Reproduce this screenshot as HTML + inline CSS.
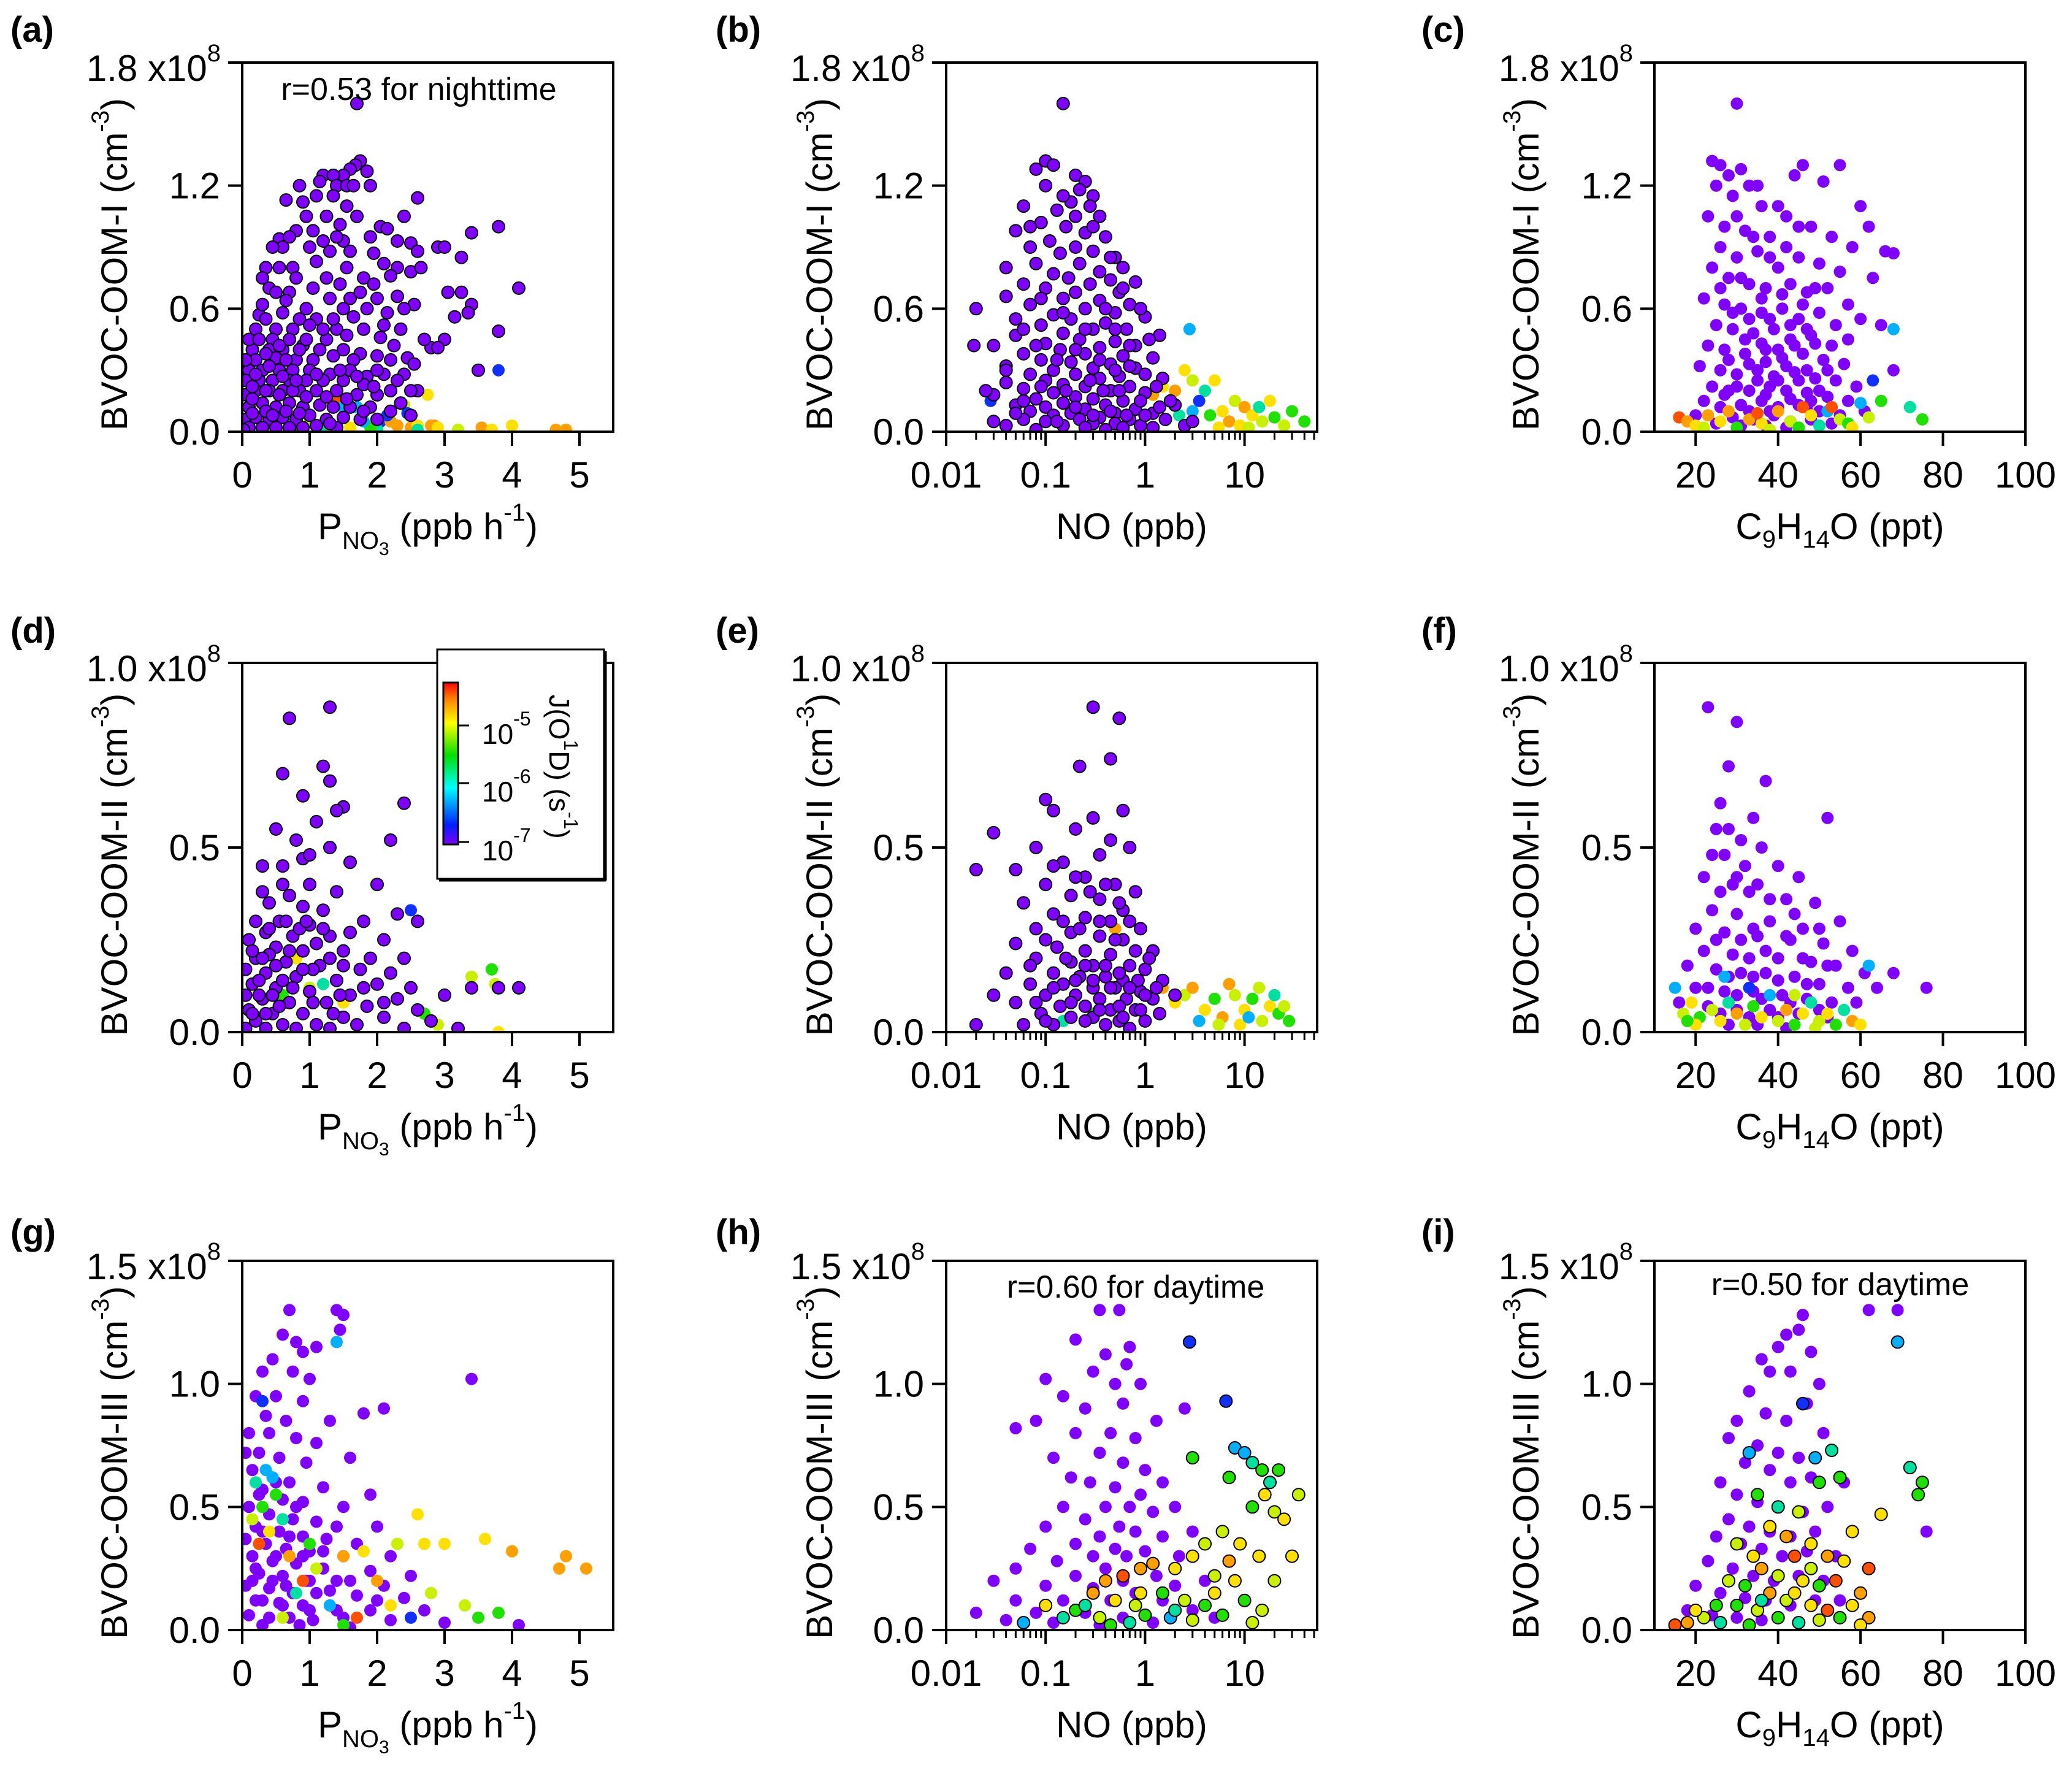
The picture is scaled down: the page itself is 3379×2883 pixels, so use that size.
<!DOCTYPE html>
<html><head><meta charset="utf-8"><style>
html,body{margin:0;padding:0;background:#fff;}
svg{display:block;font-family:"Liberation Sans",Arial,sans-serif;}
</style></head><body>
<svg id="fig" xmlns="http://www.w3.org/2000/svg" width="3379" height="2883" viewBox="0 0 3379 2883">
<defs>
<linearGradient id="rainbow" x1="0" y1="1" x2="0" y2="0">
<stop offset="0" stop-color="#7f00ff"/><stop offset="0.12" stop-color="#0020ff"/><stop offset="0.35" stop-color="#00ffff"/><stop offset="0.55" stop-color="#00e000"/><stop offset="0.75" stop-color="#ffff00"/><stop offset="0.9" stop-color="#ff8000"/><stop offset="1" stop-color="#ff0000"/>
</linearGradient>
</defs>
<g id="root"></g>
</svg>
<script>
const colorList=['#7f00ff','#1030ff','#00b0ff','#00e0a0','#20e000','#c8f000','#ffe000','#ffa000','#ff5000'];
const xTicksCol1=[0,1,2,3,4,5];
const xTicksCol2=[0.01,0.1,1,10];
const xTickLabelsCol2=['0.01','0.1','1','10'];
const xTicksCol3=[20,40,60,80,100];
const yTicksRow1=[0,0.6,1.2];
const yTicksRow2=[0,0.5];
const yTicksRow3=[0,0.5,1.0];
const yTopRow=['1.8','1.0','1.5'];
const yMaxRow=[1.8,1.0,1.5];
const yTitles=['BVOC-OOM-I','BVOC-OOM-II','BVOC-OOM-III'];

const aColor=[[1.4,0.15,8],[1.5,0.12,2],[1.7,0.12,2],[2.4,0.13,5],[2.45,0.09,1],[2.05,0.05,1],[2.2,0.05,7],[2.3,0.03,7],[2.5,0.02,7],[2.6,0.03,6],[2.75,0.18,6],[2.8,0.03,7],[2.85,0.03,7],[2.9,0.02,6],[3.2,0.01,5],[3.55,0.02,7],[3.7,0.01,6],[4.0,0.03,6],[4.65,0.01,7],[4.8,0.01,7],[3.8,0.3,1],[2.0,0.01,3],[1.9,0.02,4],[1.6,0.02,6],[1.2,0.02,3],[0.8,0.01,4],[2.15,0.08,1],[2.6,0.01,3],[1.0,0.05,5],[1.8,0.05,2]];
const aPurple=[[1.7,1.6],[1.75,1.32],[1.68,1.3],[1.6,1.28],[1.5,1.25],[1.2,1.25],[1.35,1.25],[1.85,1.27],[0.85,1.2],[1.15,1.22],[1.4,1.2],[1.55,1.2],[1.65,1.2],[1.9,1.2],[2.6,1.14],[0.65,1.13],[0.9,1.12],[1.1,1.15],[1.55,1.1],[1.35,1.15],[2.4,1.05],[2.05,1.0],[2.15,0.99],[3.8,1.0],[3.4,0.97],[0.8,0.98],[1.45,1.01],[0.55,0.94],[1.2,0.93],[1.5,0.93],[2.3,0.93],[2.5,0.92],[2.9,0.9],[3.0,0.9],[0.6,0.9],[1.0,0.9],[1.3,0.88],[1.6,0.88],[1.95,0.87],[2.6,0.88],[3.25,0.85],[0.35,0.8],[0.75,0.8],[1.1,0.83],[1.55,0.8],[2.1,0.82],[2.3,0.8],[2.5,0.78],[2.65,0.8],[0.3,0.75],[0.8,0.75],[1.25,0.75],[1.8,0.75],[2.2,0.76],[4.1,0.7],[0.4,0.7],[0.7,0.68],[1.05,0.7],[1.45,0.72],[1.95,0.72],[3.05,0.68],[3.25,0.68],[0.65,0.64],[1.3,0.65],[2.3,0.66],[2.55,0.62],[3.4,0.62],[3.35,0.58],[0.25,0.57],[0.6,0.58],[0.95,0.6],[1.5,0.6],[1.85,0.6],[2.15,0.58],[3.15,0.56],[0.35,0.55],[0.85,0.55],[1.1,0.55],[1.65,0.56],[2.35,0.5],[3.8,0.49],[0.2,0.5],[0.5,0.5],[0.75,0.5],[1.0,0.52],[1.4,0.5],[1.8,0.5],[2.05,0.46],[3.0,0.45],[0.45,0.45],[0.7,0.45],[1.25,0.45],[1.55,0.47],[2.25,0.42],[2.8,0.41],[2.9,0.41],[0.15,0.4],[0.4,0.4],[0.6,0.4],[0.9,0.42],[1.15,0.4],[1.5,0.4],[1.75,0.38],[2.0,0.37],[2.45,0.36],[0.2,0.35],[0.5,0.36],[0.8,0.35],[1.05,0.35],[1.35,0.37],[1.65,0.35],[2.2,0.35],[2.55,0.33],[3.5,0.3],[0.1,0.3],[0.3,0.3],[0.55,0.3],[0.75,0.3],[1.0,0.3],[1.3,0.28],[1.6,0.3],[1.85,0.27],[2.1,0.28],[2.4,0.28],[0.05,0.25],[0.25,0.25],[0.45,0.25],[0.7,0.25],[0.95,0.25],[1.2,0.25],[1.5,0.25],[1.8,0.23],[2.3,0.25],[2.6,0.2],[0.05,0.18],[0.2,0.2],[0.4,0.2],[0.6,0.2],[0.85,0.2],[1.1,0.2],[1.4,0.2],[1.7,0.18],[2.0,0.18],[2.5,0.2],[0.1,0.12],[0.3,0.14],[0.5,0.12],[0.7,0.14],[0.9,0.12],[1.15,0.13],[1.35,0.12],[1.6,0.12],[1.9,0.12],[2.2,0.1],[0.05,0.06],[0.2,0.07],[0.4,0.06],[0.6,0.07],[0.8,0.06],[1.0,0.08],[1.25,0.06],[1.5,0.07],[1.75,0.06],[0.1,0.02],[0.3,0.02],[0.5,0.02],[0.7,0.02],[0.9,0.02],[1.1,0.03],[1.4,0.02],[0.02,0.01],[0.15,0.16],[0.35,0.1],[0.65,0.1],
[0.1,0.45],[0.3,0.62],[0.5,0.68],[0.55,0.8],[0.45,0.9],[0.7,0.95],[0.95,1.05],[1.05,0.98],[1.25,1.05],[1.4,0.95],[1.7,1.05],[1.9,0.95],[0.25,0.45],[0.35,0.38],[0.55,0.42],[0.65,0.35],[0.85,0.4],[0.95,0.45],[1.2,0.5],[1.35,0.55],[1.6,0.65],[1.75,0.68],[2.0,0.65],[2.1,0.52],[2.4,0.6],[2.7,0.45],[0.15,0.22],[0.35,0.2],[0.55,0.18],[0.75,0.2],[0.95,0.17],[1.25,0.17],[1.55,0.16],[1.95,0.22],[2.2,0.2],[2.35,0.14],[0.2,0.28],[0.4,0.32],[0.6,0.27],[0.8,0.25],[1.1,0.28],[1.45,0.3],[1.7,0.27],[2.0,0.3],[0.05,0.35],[0.15,0.09],[0.45,0.08],[0.85,0.09],[1.3,0.04],[1.8,0.1],[2.0,0.06],[2.5,0.08]];

const bColor=[[2.8,0.5,2],[2.5,0.3,6],[3,0.25,5],[4,0.2,3],[5,0.25,6],[3.5,0.15,1],[2,0.2,7],[1.5,0.22,6],[1.2,0.18,7],[6,0.1,6],[8,0.15,5],[10,0.12,7],[12,0.08,6],[15,0.05,5],[20,0.07,4],[25,0.03,5],[30,0.1,4],[40,0.05,4],[18,0.15,6],[7,0.05,7],[4.5,0.08,4],[3,0.1,2],[2.2,0.08,3],[9,0.03,6],[0.028,0.15,1],[11,0.02,5],[5.5,0.02,6],[14,0.12,3]];
const bPurple=[[0.15,1.6],[0.1,1.32],[0.12,1.3],[0.08,1.28],[0.2,1.25],[0.25,1.22],[0.22,1.18],[0.3,1.15],[0.18,1.12],[0.28,1.1],[0.06,1.1],[0.13,1.08],[0.35,1.05],[0.09,1.02],[0.16,1.0],[0.05,0.98],[0.25,0.97],[0.4,0.95],[0.11,0.93],[0.2,0.9],[0.07,0.9],[0.3,0.88],[0.14,0.87],[0.5,0.85],[0.08,0.82],[0.22,0.82],[0.6,0.8],[0.04,0.8],[0.35,0.78],[0.12,0.77],[0.17,0.75],[0.45,0.74],[0.06,0.72],[0.28,0.72],[0.8,0.73],[0.1,0.7],[0.2,0.68],[0.55,0.68],[0.04,0.66],[0.15,0.65],[0.35,0.64],[0.7,0.62],[0.07,0.62],[0.25,0.6],[0.02,0.6],[0.5,0.58],[0.12,0.57],[1.0,0.56],[0.18,0.55],[0.05,0.55],[0.4,0.53],[0.09,0.52],[0.3,0.5],[0.65,0.5],[0.15,0.48],[0.05,0.47],[1.4,0.47],[0.22,0.45],[0.5,0.44],[0.1,0.43],[0.8,0.42],[0.03,0.42],[0.35,0.41],[0.14,0.4],[0.06,0.38],[0.25,0.38],[0.6,0.37],[1.2,0.36],[0.09,0.35],[0.18,0.34],[0.45,0.33],[0.04,0.32],[0.3,0.31],[0.8,0.31],[0.12,0.3],[0.2,0.28],[0.07,0.28],[0.55,0.27],[1.5,0.26],[0.35,0.26],[0.1,0.25],[0.04,0.24],[0.15,0.23],[0.25,0.22],[0.7,0.22],[0.06,0.21],[0.45,0.2],[0.12,0.19],[1.0,0.19],[0.03,0.18],[0.2,0.17],[0.3,0.16],[0.08,0.16],[0.6,0.15],[0.15,0.14],[0.05,0.13],[0.4,0.13],[2,0.13],[0.1,0.12],[0.25,0.11],[0.8,0.11],[0.07,0.1],[0.18,0.09],[0.5,0.09],[1.2,0.09],[0.12,0.08],[0.35,0.07],[0.06,0.06],[0.22,0.06],[0.7,0.06],[1.6,0.06],[0.1,0.05],[0.3,0.04],[0.5,0.04],[0.15,0.03],[0.9,0.03],[0.04,0.03],[0.25,0.02],[0.6,0.02],[0.4,0.01],[1.2,0.02],[0.08,0.01],[0.019,0.42],[0.025,0.2],[0.03,0.05],[2.5,0.03],[3,0.05],[1.8,0.15],
[0.1,1.2],[0.15,1.15],[0.07,1.0],[0.3,1.0],[0.2,1.05],[0.45,0.85],[0.6,0.7],[0.9,0.6],[1.1,0.45],[0.5,0.5],[0.7,0.42],[0.25,0.5],[0.4,0.6],[0.15,0.58],[0.06,0.5],[0.09,0.65],[0.35,0.35],[0.5,0.3],[0.7,0.32],[1.0,0.28],[1.3,0.22],[0.2,0.4],[0.13,0.35],[0.08,0.42],[0.04,0.3],[0.06,0.15],[0.09,0.22],[0.16,0.2],[0.28,0.25],[0.38,0.2],[0.55,0.2],[0.9,0.15],[1.4,0.12],[0.3,0.08],[0.45,0.1],[0.2,0.12],[0.65,0.08],[1.0,0.08],[0.05,0.09],[0.13,0.05]];

const cPurple=[[30,1.6],[24,1.32],[26,1.3],[31,1.28],[28,1.25],[33,1.2],[46,1.3],[55,1.3],[25,1.2],[29,1.15],[36,1.1],[44,1.25],[51,1.22],[60,1.1],[66,0.88],[68,0.87],[23,1.05],[27,1.0],[32,0.98],[38,0.95],[42,1.05],[48,1.0],[53,0.95],[58,0.9],[62,1.0],[26,0.9],[30,0.85],[35,0.88],[40,0.8],[45,0.85],[50,0.82],[55,0.78],[63,0.75],[24,0.8],[28,0.75],[33,0.72],[37,0.7],[43,0.72],[47,0.68],[52,0.7],[57,0.62],[22,0.65],[27,0.62],[31,0.6],[36,0.58],[41,0.6],[45,0.55],[50,0.58],[54,0.52],[60,0.55],[25,0.52],[29,0.5],[34,0.48],[39,0.5],[43,0.45],[48,0.47],[53,0.42],[57,0.45],[65,0.52],[23,0.42],[27,0.4],[32,0.38],[37,0.4],[41,0.36],[46,0.38],[51,0.35],[56,0.33],[21,0.32],[26,0.3],[30,0.28],[35,0.3],[39,0.27],[44,0.29],[49,0.26],[54,0.25],[59,0.22],[24,0.22],[28,0.2],[33,0.2],[38,0.22],[42,0.2],[47,0.19],[52,0.17],[57,0.15],[22,0.15],[26,0.12],[31,0.13],[36,0.15],[40,0.12],[45,0.13],[50,0.1],[55,0.08],[61,0.1],[20,0.08],[29,0.07],[34,0.06],[39,0.08],[43,0.05],[48,0.06],[53,0.04],[25,0.04],[31,0.03],[37,0.03],[42,0.02],[68,0.3],
[35,1.2],[40,1.1],[45,1.0],[30,1.05],[34,0.95],[38,0.85],[42,0.9],[26,0.7],[31,0.75],[36,0.65],[41,0.67],[46,0.62],[49,0.7],[29,0.58],[33,0.55],[38,0.55],[43,0.52],[47,0.5],[32,0.45],[36,0.43],[40,0.4],[44,0.42],[49,0.43],[28,0.35],[33,0.33],[37,0.34],[42,0.32],[47,0.3],[52,0.3],[30,0.22],[35,0.25],[40,0.25],[45,0.25],[50,0.2],[27,0.18],[37,0.18],[43,0.16],[48,0.15],[33,0.1],[38,0.1],[47,0.12]];
const cColor=[[16,0.07,8],[18,0.05,7],[20,0.03,6],[23,0.08,7],[26,0.05,6],[30,0.02,4],[33,0.06,7],[36,0.04,6],[40,0.1,7],[43,0.05,5],[46,0.12,8],[48,0.08,6],[50,0.03,3],[52,0.1,2],[55,0.06,5],[57,0.04,4],[60,0.14,2],[62,0.07,5],[63,0.25,1],[65,0.15,4],[68,0.5,2],[72,0.12,3],[75,0.06,4],[58,0.02,6],[38,0.01,5],[28,0.1,7],[53,0.12,8],[45,0.02,4],[35,0.09,8],[22,0.02,5]];

const dColor=[[2.5,0.33,1],[3.4,0.15,5],[3.7,0.17,4],[3.75,0.13,5],[3.8,0.0,6],[1.8,0.12,2],[1.2,0.13,3],[0.8,0.2,6],[1.0,0.12,5],[2.7,0.05,4],[2.9,0.02,5],[0.6,0.1,4],[1.5,0.08,6]];
const dPurple=[[1.3,0.88],[0.7,0.85],[1.2,0.72],[0.6,0.7],[1.3,0.68],[0.9,0.64],[2.4,0.62],[1.5,0.61],[1.4,0.6],[1.1,0.57],[0.5,0.55],[0.8,0.52],[1.3,0.5],[2.2,0.52],[0.9,0.47],[0.6,0.45],[1.6,0.46],[2.0,0.4],[1.0,0.4],[0.3,0.38],[0.7,0.37],[1.4,0.38],[0.4,0.35],[0.9,0.34],[1.2,0.33],[2.3,0.32],[1.8,0.3],[0.2,0.3],[0.55,0.3],[1.0,0.29],[0.35,0.27],[0.75,0.26],[1.3,0.26],[1.6,0.27],[2.1,0.25],[2.6,0.3],[0.1,0.25],[0.5,0.23],[0.9,0.22],[1.5,0.22],[1.9,0.2],[2.4,0.2],[0.2,0.2],[0.65,0.19],[1.15,0.18],[1.75,0.17],[2.2,0.16],[0.05,0.17],[0.35,0.16],[0.8,0.15],[1.4,0.14],[2.0,0.13],[2.5,0.12],[0.15,0.13],[0.5,0.12],[1.0,0.11],[1.6,0.1],[2.3,0.09],[3.0,0.1],[0.05,0.1],[0.3,0.09],[0.7,0.08],[1.25,0.08],[1.85,0.07],[2.6,0.06],[3.4,0.12],[3.8,0.12],[4.1,0.12],[0.1,0.06],[0.45,0.05],[0.9,0.05],[1.5,0.04],[2.1,0.04],[2.8,0.03],[0.2,0.03],[0.6,0.02],[1.1,0.02],[1.7,0.02],[2.4,0.01],[3.2,0.01],[0.05,0.01],[0.35,0.01],[0.8,0.01],[1.3,0.01],[0.25,0.1],[0.6,0.14],[1.05,0.17],[1.45,0.1],[0.4,0.21],[0.85,0.28],
[0.3,0.2],[0.5,0.18],[0.7,0.22],[0.9,0.17],[1.1,0.24],[1.3,0.2],[0.15,0.22],[0.4,0.28],[0.65,0.3],[1.2,0.28],[1.5,0.18],[0.25,0.14],[0.45,0.1],[0.75,0.12],[1.05,0.08],[1.35,0.05],[0.15,0.05],[0.55,0.07],[1.8,0.12],[2.1,0.08],[0.35,0.05],[0.95,0.3],[0.6,0.4],[1.0,0.48],[0.3,0.45]];

const eColor=[[0.5,0.28,7],[1.5,0.12,7],[2,0.08,6],[2.5,0.1,5],[3,0.12,7],[4,0.06,6],[5,0.09,4],[6,0.04,7],[8,0.1,5],[10,0.06,6],[12,0.09,4],[15,0.03,5],[18,0.07,6],[22,0.05,4],[28,0.03,4],[20,0.1,3],[14,0.12,5],[7,0.13,7],[3.5,0.03,2],[9,0.02,6],[25,0.07,5],[0.3,0.05,4],[0.15,0.03,3],[1,0.03,6],[11,0.04,2],[5.5,0.02,5]];
const ePurple=[[0.3,0.88],[0.55,0.85],[0.22,0.72],[0.45,0.74],[0.1,0.63],[0.03,0.54],[0.12,0.6],[0.3,0.58],[0.6,0.6],[0.2,0.55],[0.45,0.52],[0.08,0.5],[0.35,0.48],[0.7,0.5],[0.15,0.46],[0.05,0.44],[0.25,0.42],[0.5,0.4],[0.1,0.4],[0.8,0.38],[0.02,0.44],[0.18,0.37],[0.35,0.36],[0.06,0.35],[0.6,0.33],[0.12,0.32],[0.25,0.31],[0.45,0.3],[0.9,0.28],[0.08,0.28],[0.18,0.27],[0.35,0.26],[0.05,0.24],[0.6,0.25],[1.2,0.22],[0.13,0.23],[0.25,0.22],[0.45,0.21],[0.08,0.2],[0.18,0.19],[0.3,0.18],[0.7,0.18],[1.0,0.17],[0.04,0.16],[0.12,0.16],[0.22,0.15],[0.4,0.15],[0.6,0.14],[1.5,0.14],[0.07,0.13],[0.15,0.13],[0.3,0.12],[0.5,0.12],[0.9,0.11],[0.1,0.1],[0.2,0.1],[0.35,0.09],[0.65,0.09],[1.2,0.09],[0.05,0.08],[0.14,0.07],[0.25,0.07],[0.45,0.06],[0.8,0.06],[0.09,0.05],[0.18,0.04],[0.3,0.04],[0.55,0.03],[1.0,0.03],[0.12,0.02],[0.4,0.02],[0.7,0.01],[0.02,0.02],[0.03,0.1],[1.4,0.05],[2,0.1],[0.06,0.02],
[0.12,0.45],[0.2,0.42],[0.28,0.38],[0.4,0.4],[0.55,0.35],[0.7,0.3],[0.15,0.3],[0.22,0.28],[0.35,0.3],[0.5,0.25],[0.8,0.22],[1.1,0.2],[0.1,0.25],[0.16,0.2],[0.25,0.18],[0.4,0.18],[0.55,0.16],[0.85,0.14],[1.3,0.12],[0.07,0.18],[0.12,0.12],[0.2,0.14],[0.3,0.14],[0.45,0.12],[0.7,0.12],[1.0,0.1],[0.08,0.08],[0.18,0.08],[0.35,0.06],[0.55,0.07],[0.9,0.06],[0.25,0.03],[0.1,0.03],[0.6,0.04]];

const fPurple=[[23,0.88],[30,0.84],[37,0.68],[28,0.72],[26,0.62],[34,0.58],[52,0.58],[25,0.55],[31,0.52],[27,0.48],[36,0.5],[40,0.45],[45,0.42],[22,0.42],[29,0.4],[33,0.38],[42,0.36],[49,0.35],[24,0.33],[30,0.32],[38,0.3],[46,0.28],[55,0.3],[20,0.28],[27,0.27],[35,0.26],[43,0.25],[51,0.24],[58,0.22],[22,0.22],[29,0.21],[33,0.2],[40,0.2],[48,0.19],[54,0.18],[61,0.16],[68,0.16],[76,0.12],[18,0.18],[25,0.17],[31,0.16],[37,0.16],[44,0.15],[50,0.13],[57,0.12],[64,0.12],[20,0.12],[27,0.11],[34,0.11],[41,0.1],[47,0.09],[53,0.08],[59,0.08],[23,0.07],[30,0.06],[38,0.06],[45,0.05],[52,0.04],[16,0.08],[35,0.02],[42,0.01],[28,0.02],
[24,0.48],[28,0.55],[32,0.45],[35,0.4],[30,0.42],[26,0.38],[38,0.36],[44,0.32],[50,0.28],[34,0.28],[42,0.26],[25,0.25],[31,0.25],[37,0.22],[46,0.2],[52,0.18],[28,0.15],[34,0.15],[40,0.14],[47,0.13],[23,0.12],[30,0.1],[36,0.09],[43,0.08],[50,0.06],[26,0.05],[33,0.04],[40,0.04]];
const fColor=[[15,0.12,2],[17,0.05,5],[19,0.08,6],[21,0.04,4],[24,0.06,5],[26,0.03,6],[28,0.08,3],[30,0.05,7],[32,0.02,5],[34,0.07,4],[36,0.04,6],[38,0.1,2],[40,0.03,5],[42,0.06,7],[44,0.02,4],[46,0.05,6],[48,0.08,3],[50,0.03,5],[52,0.05,6],[54,0.02,4],[56,0.06,3],[58,0.03,7],[60,0.02,6],[62,0.18,2],[20,0.02,6],[27,0.15,2],[44,0.1,5],[33,0.12,1],[49,0.01,5],[18,0.03,4]];

const gPurple=[[0.7,1.3],[1.4,1.3],[1.5,1.28],[1.45,1.22],[0.6,1.2],[0.8,1.17],[0.9,1.13],[1.1,1.15],[0.45,1.1],[0.3,1.05],[0.75,1.05],[1.0,1.02],[3.4,1.02],[0.2,0.95],[0.5,0.95],[0.9,0.93],[1.8,0.88],[2.1,0.9],[0.35,0.87],[0.65,0.85],[1.3,0.85],[0.1,0.8],[0.4,0.8],[0.8,0.78],[1.1,0.76],[1.6,0.7],[0.25,0.72],[0.55,0.7],[0.95,0.68],[0.15,0.65],[0.45,0.62],[0.7,0.6],[1.2,0.58],[1.9,0.55],[0.3,0.57],[0.6,0.53],[0.9,0.52],[1.5,0.5],[0.1,0.5],[0.4,0.47],[0.75,0.45],[1.1,0.44],[1.4,0.42],[2.0,0.42],[0.2,0.42],[0.55,0.4],[0.9,0.38],[1.25,0.37],[1.7,0.35],[0.05,0.37],[0.35,0.35],[0.65,0.33],[1.0,0.32],[1.5,0.3],[2.2,0.3],[0.15,0.3],[0.45,0.28],[0.8,0.27],[1.2,0.25],[1.9,0.24],[2.5,0.22],[0.25,0.23],[0.6,0.22],[0.95,0.2],[1.4,0.2],[2.1,0.18],[0.05,0.18],[0.4,0.17],[0.75,0.15],[1.1,0.15],[1.7,0.14],[2.4,0.13],[0.2,0.12],[0.55,0.11],[0.9,0.1],[1.3,0.1],[1.9,0.08],[2.7,0.08],[0.1,0.06],[0.4,0.05],[0.7,0.05],[1.05,0.04],[1.5,0.05],[2.2,0.04],[3.0,0.03],[4.1,0.02],[0.3,0.02],[0.85,0.02],[1.6,0.01],[0.05,0.72],
[0.3,0.4],[0.5,0.3],[0.7,0.38],[0.9,0.3],[1.2,0.32],[0.2,0.25],[0.45,0.2],[0.65,0.18],[1.0,0.2],[1.3,0.16],[1.6,0.2],[0.3,0.12],[0.6,0.1],[1.0,0.08],[1.4,0.08],[2.0,0.12],[0.15,0.2],[0.5,0.6],[0.25,0.55],[0.8,0.5]];
const gColor=[[1.4,1.17,2],[0.3,0.93,1],[0.35,0.65,2],[0.45,0.62,2],[0.2,0.6,3],[0.5,0.55,4],[0.3,0.5,4],[0.15,0.45,5],[0.6,0.45,3],[0.4,0.4,6],[0.25,0.35,8],[0.7,0.3,7],[1.0,0.35,4],[1.5,0.3,7],[1.1,0.25,5],[1.8,0.32,6],[2.3,0.35,5],[2.6,0.47,6],[2.7,0.35,6],[2.0,0.2,7],[2.2,0.1,6],[2.5,0.05,1],[2.8,0.15,5],[3.3,0.1,5],[3.5,0.05,4],[3.6,0.37,6],[3.8,0.07,4],[4.0,0.32,7],[4.8,0.3,7],[4.7,0.25,7],[5.1,0.25,7],[1.3,0.1,2],[0.8,0.15,3],[0.6,0.05,5],[1.5,0.02,4],[3.0,0.35,6],[1.7,0.05,8],[0.9,0.2,8]];

const hPurple=[[0.35,1.3],[0.55,1.3],[0.2,1.18],[0.7,1.15],[0.4,1.12],[0.65,1.08],[0.3,1.05],[0.1,1.02],[0.15,0.95],[0.5,1.0],[0.9,1.0],[0.25,0.9],[0.6,0.92],[0.05,0.82],[0.08,0.85],[1.3,0.85],[0.2,0.8],[0.45,0.8],[0.8,0.78],[0.12,0.7],[0.35,0.72],[0.6,0.68],[1.0,0.65],[0.18,0.62],[0.28,0.6],[0.5,0.58],[1.5,0.6],[0.9,0.55],[0.4,0.5],[0.7,0.5],[0.15,0.5],[1.2,0.48],[2,0.5],[0.25,0.45],[0.55,0.42],[0.1,0.42],[0.35,0.38],[0.8,0.4],[1.5,0.38],[3,0.4],[0.2,0.35],[0.5,0.33],[0.07,0.33],[1.0,0.32],[0.3,0.3],[0.65,0.3],[0.13,0.28],[2.2,0.3],[0.4,0.25],[0.9,0.25],[0.05,0.25],[0.2,0.22],[1.3,0.22],[0.6,0.2],[0.03,0.2],[0.1,0.18],[0.3,0.17],[2,0.18],[0.8,0.15],[0.05,0.12],[0.15,0.12],[0.45,0.12],[1.5,0.12],[0.02,0.07],[0.08,0.07],[0.25,0.07],[3,0.08],[0.6,0.05],[0.04,0.04],[0.12,0.03],[1.2,0.03],[0.35,0.02],[5,0.05],[4,0.2],[2.5,0.9]];
const hColor=[[2.8,1.17,1],[6.5,0.93,1],[8,0.74,2],[10,0.72,2],[12,0.68,3],[3,0.7,4],[15,0.65,4],[18,0.6,3],[22,0.65,4],[7,0.62,4],[16,0.55,6],[20,0.48,5],[35,0.55,5],[25,0.45,6],[12,0.5,4],[6,0.4,5],[9,0.35,6],[4,0.35,5],[14,0.3,6],[3,0.3,6],[1.2,0.27,7],[0.9,0.25,7],[0.6,0.22,8],[0.4,0.2,7],[2,0.25,6],[5,0.22,5],[8,0.2,6],[0.3,0.15,7],[0.5,0.12,6],[0.8,0.1,5],[1.5,0.15,4],[2.5,0.12,5],[4,0.1,4],[10,0.12,4],[15,0.08,5],[0.2,0.08,4],[0.15,0.05,3],[0.1,0.1,6],[0.35,0.05,5],[0.7,0.03,3],[1.0,0.06,4],[1.8,0.05,2],[3,0.04,5],[6,0.06,4],[12,0.03,5],[0.25,0.1,3],[0.45,0.02,4],[0.06,0.03,2],[0.9,0.15,6],[5,0.15,6],[20,0.2,5],[7,0.28,7],[30,0.3,6],[2,0.08,3]];

const iPurple=[[62,1.3],[69,1.3],[46,1.28],[45,1.22],[42,1.2],[40,1.15],[48,1.13],[36,1.1],[38,1.05],[43,1.05],[50,1.0],[33,0.97],[47,0.92],[30,0.85],[37,0.88],[42,0.85],[51,0.8],[28,0.78],[35,0.75],[40,0.72],[45,0.7],[32,0.68],[38,0.65],[43,0.6],[48,0.62],[26,0.6],[30,0.55],[35,0.52],[40,0.5],[46,0.48],[52,0.5],[28,0.45],[33,0.42],[38,0.4],[43,0.38],[49,0.4],[25,0.38],[31,0.35],[36,0.33],[41,0.3],[47,0.32],[54,0.3],[23,0.28],[29,0.25],[34,0.22],[39,0.2],[45,0.22],[51,0.2],[20,0.18],[26,0.15],[32,0.13],[37,0.12],[43,0.1],[49,0.12],[18,0.08],[24,0.06],[30,0.05],[36,0.04],[76,0.4],[55,0.12],[56,0.6]];
const iColor=[[33,0.72,2],[49,0.7,2],[53,0.73,3],[72,0.66,3],[75,0.6,4],[74,0.55,4],[69,1.17,2],[46,0.92,1],[55,0.62,4],[50,0.6,4],[35,0.55,4],[40,0.5,3],[45,0.48,5],[65,0.47,6],[58,0.4,6],[62,0.25,8],[38,0.42,6],[42,0.38,7],[48,0.35,6],[52,0.3,7],[30,0.35,5],[34,0.3,6],[44,0.3,8],[56,0.28,6],[36,0.25,7],[40,0.22,5],[46,0.2,6],[50,0.18,4],[54,0.2,8],[60,0.15,7],[28,0.2,5],[32,0.18,4],[38,0.15,7],[42,0.12,5],[48,0.1,6],[52,0.08,8],[58,0.1,6],[62,0.05,7],[25,0.1,4],[22,0.05,5],[18,0.03,7],[15,0.02,8],[20,0.08,6],[30,0.1,4],[35,0.08,5],[40,0.05,4],[45,0.03,3],[50,0.04,5],[55,0.05,4],[60,0.02,6],[26,0.03,3],[33,0.02,4],[44,0.15,6],[36,0.12,3],[48,0.25,5]];

const NS='http://www.w3.org/2000/svg';
const root=document.getElementById('root');
function mk(tag,attrs,parent){const e=document.createElementNS(NS,tag);for(const k in attrs)e.setAttribute(k,attrs[k]);(parent||root).appendChild(e);return e;}

const colsGeom=[{L:395,R:1000},{L:1543,R:2148},{L:2698,R:3303}];
const rowsGeom=[{T:102,B:704},{T:1081,B:1683},{T:2056,B:2658}];
const titleX=[207,1357,2509];
const letters=['a','b','c','d','e','f','g','h','i'];
const labelX=[17,1167,2318];
const labelY=[48,1028,2009];

function xScale(col){
  const g=colsGeom[col];
  if(col===0){const d0=0,d1=5.5;return v=>g.L+(v-d0)/(d1-d0)*(g.R-g.L);}
  if(col===1){const d0=-2,d1=1.73;return v=>g.L+(Math.log10(v)-d0)/(d1-d0)*(g.R-g.L);}
  const d0=10,d1=100;return v=>g.L+(v-d0)/(d1-d0)*(g.R-g.L);
}
function yScale(row){const g=rowsGeom[row];const m=yMaxRow[row];return v=>g.B-v/m*(g.B-g.T);}

const panels=[
 {p:aPurple,c:aColor,order:'cp',pOut:true,cOut:false},
 {p:bPurple,c:bColor,order:'cp',pOut:true,cOut:false},
 {p:cPurple,c:cColor,order:'pc',pOut:false,cOut:false},
 {p:dPurple,c:dColor,order:'cp',pOut:true,cOut:false},
 {p:ePurple,c:eColor,order:'cp',pOut:true,cOut:false},
 {p:fPurple,c:fColor,order:'pc',pOut:false,cOut:false},
 {p:gPurple,c:gColor,order:'pc',pOut:false,cOut:false},
 {p:hPurple,c:hColor,order:'pc',pOut:false,cOut:true},
 {p:iPurple,c:iColor,order:'pc',pOut:false,cOut:true}
];
const yTickSets=[yTicksRow1,yTicksRow2,yTicksRow3];

for(let r=0;r<3;r++){for(let c=0;c<3;c++){
  const idx=r*3+c;const P=panels[idx];
  const G=colsGeom[c],Rg=rowsGeom[r];
  const xs=xScale(c),ys=yScale(r);
  const g=mk('g',{});
  
  
  const clipId='clip'+idx;
  const cp=mk('clipPath',{id:clipId},g);mk('rect',{x:G.L,y:Rg.T-15,width:G.R-G.L,height:Rg.B-Rg.T+15},cp);
  const marks=mk('g',{'clip-path':'url(#'+clipId+')'},g);
  
  
  function drawP(){for(const pt of P.p){const e=mk('circle',{cx:xs(pt[0]).toFixed(1),cy:ys(pt[1]).toFixed(1),r:10,fill:colorList[0],stroke:P.pOut?'#000':'none','stroke-width':2},marks);
    
    }}
  function drawC(){for(const pt of P.c){const e=mk('circle',{cx:xs(pt[0]).toFixed(1),cy:ys(pt[1]).toFixed(1),r:10,fill:colorList[pt[2]],stroke:P.cOut?'#000':'none','stroke-width':2},marks);
    
    }}
  if(P.order==='cp'){drawC();drawP();}else{drawP();drawC();}
  const fr=mk('rect',{x:G.L,y:Rg.T,width:G.R-G.L,height:Rg.B-Rg.T,fill:'none',stroke:'#000','stroke-width':4},g);
  
  
  for(const v of yTickSets[r]){const y=ys(v);mk('line',{x1:G.L-23,x2:G.L,y1:y,y2:y,stroke:'#000','stroke-width':4},g);
    const t=mk('text',{x:G.L-36,y:y+21,'font-size':60,'text-anchor':'end'},g);t.textContent=v.toFixed(1);
    
    }
  mk('line',{x1:G.L-23,x2:G.L,y1:Rg.T,y2:Rg.T,stroke:'#000','stroke-width':4},g);
  const tt=mk('text',{x:G.L-35,y:Rg.T+30,'font-size':60,'text-anchor':'end'},g);
  
  
  tt.innerHTML=yTopRow[r]+' x10<tspan font-size="40" dy="-32">8</tspan>';
  const tickY=Rg.B+70;
  if(c===0){for(const v of xTicksCol1){const x=xs(v);mk('line',{x1:x,x2:x,y1:Rg.B,y2:Rg.B+23,stroke:'#000','stroke-width':4},g);
      const t=mk('text',{x:x,y:tickY+21,'font-size':60,'text-anchor':'middle'},g);t.textContent=v;
      
      }}
  else if(c===1){
    for(let e=-2;e<=1;e++){for(let m=1;m<10;m++){const v=m*Math.pow(10,e);const lv=Math.log10(v);if(lv<-2.001||lv>1.73)continue;const x=xs(v);
      mk('line',{x1:x,x2:x,y1:Rg.B,y2:Rg.B+(m===1?23:13),stroke:'#000','stroke-width':m===1?4:3},g);}}
    xTicksCol2.forEach((v,i)=>{const t=mk('text',{x:xs(v),y:tickY+21,'font-size':60,'text-anchor':'middle'},g);t.textContent=xTickLabelsCol2[i];
      
      });
  } else {for(const v of xTicksCol3){const x=xs(v);mk('line',{x1:x,x2:x,y1:Rg.B,y2:Rg.B+23,stroke:'#000','stroke-width':4},g);
      const t=mk('text',{x:x,y:tickY+21,'font-size':60,'text-anchor':'middle'},g);t.textContent=v;
      
      }}
  const xt=mk('text',{x:(G.L+G.R)/2,y:Rg.B+175,'font-size':60,'text-anchor':'middle'},g);
  
  
  if(c===0)xt.innerHTML='P<tspan font-size="40" dy="16">NO</tspan><tspan font-size="30" dy="10">3</tspan><tspan dy="-26"> (ppb h</tspan><tspan font-size="40" dy="-30">-1</tspan><tspan dy="30">)</tspan>';
  else if(c===1)xt.textContent='NO (ppb)';
  else xt.innerHTML='C<tspan font-size="40" dy="14">9</tspan><tspan dy="-14">H</tspan><tspan font-size="40" dy="14">14</tspan><tspan dy="-14">O (ppt)</tspan>';
  const cy=(Rg.T+Rg.B)/2+28;
  const yt=mk('text',{x:0,y:0,'font-size':60,'text-anchor':'middle',transform:'translate('+titleX[c]+','+cy+') rotate(-90)'},g);
  
  
  yt.innerHTML=yTitles[r]+' (cm<tspan font-size="40" dy="-30">-3</tspan><tspan dy="30">)</tspan>';
  const pl=mk('text',{x:labelX[c],y:labelY[r]+20,'font-size':58,'font-weight':'bold'},g);pl.textContent='('+letters[idx]+')';
  
  
}}

const notes=[['r=0.53 for nighttime',683,145],['r=0.60 for daytime',1852,2098],['r=0.50 for daytime',3001,2094]];
for(const n of notes){const t=mk('text',{x:n[1],y:n[2]+18,'font-size':52,'text-anchor':'middle'});t.textContent=n[0];
  
  }

const lg=mk('g',{});


mk('rect',{x:713,y:1059,width:272,height:374,fill:'#fff',stroke:'#000','stroke-width':3},lg);
mk('line',{x1:716,x2:988,y1:1436,y2:1436,stroke:'#000','stroke-width':3},lg);
mk('line',{x1:988,x2:988,y1:1062,y2:1436,stroke:'#000','stroke-width':3},lg);
const bar=mk('rect',{x:723,y:1113,width:24,height:264,fill:'url(#rainbow)',stroke:'#000','stroke-width':3},lg);


const cbExp=['-5','-6','-7'];const cbY=[1183,1277,1373];
for(let i=0;i<3;i++){mk('line',{x1:747,x2:765,y1:cbY[i],y2:cbY[i],stroke:'#000','stroke-width':3},lg);
  const t=mk('text',{x:786,y:cbY[i]+30,'font-size':46},lg);t.innerHTML='10<tspan font-size="32" dy="-30">'+cbExp[i]+'</tspan>';
  
  }
const ct=mk('text',{x:0,y:0,'font-size':46,'text-anchor':'middle',transform:'translate(896,1250) rotate(90)'},lg);
ct.innerHTML='J(O<tspan font-size="32" dy="-24">1</tspan><tspan dy="24">D) (s</tspan><tspan font-size="32" dy="-24">-1</tspan><tspan dy="24">)</tspan>';


</script>
</body></html>
